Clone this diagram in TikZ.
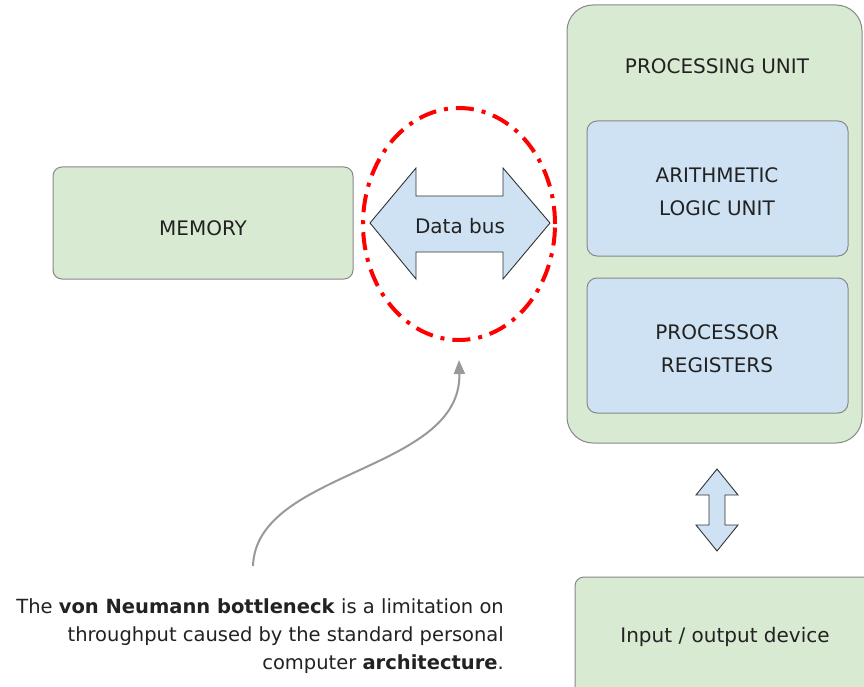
\documentclass[tikz,border=0pt]{standalone}
\usepackage{fontspec}
\setmainfont{DejaVu Sans}
\usetikzlibrary{arrows.meta,shapes.geometric}

\definecolor{boxgreen}{HTML}{D9EAD3}
\definecolor{boxblue}{HTML}{CFE2F3}
\definecolor{boxedge}{HTML}{888888}
\definecolor{inkdark}{HTML}{222222}
\definecolor{arrowedge}{HTML}{333333}
\definecolor{notegray}{HTML}{999999}

\tikzset{
  unitbox/.style={draw=boxedge, line width=1pt, fill=boxgreen, rounded corners=9pt,
    inner sep=0pt, align=center, text=inkdark},
  partbox/.style={draw=boxedge, line width=1pt, fill=boxblue, rounded corners=10pt,
    inner sep=0pt, align=center, text=inkdark},
  labeltext/.style={font=\fontsize{20}{33}\selectfont, text=inkdark, align=center},
  fatarrow/.style={draw=arrowedge, line width=0.9pt, fill=boxblue, line join=miter},
  busring/.style={draw=red, line width=4pt, dash pattern=on 18pt off 8pt on 4pt off 8pt},
  notearrow/.style={draw=notegray, line width=2pt, -{Triangle[length=14pt,width=11pt]}}
}

\begin{document}
\begin{tikzpicture}[x=1pt, y=-1pt]
  \clip (0,0) rectangle (864,687);
  \fill[white] (0,0) rectangle (864,687);

  % memory block
  \node[unitbox, minimum width=300pt, minimum height=112pt] (memory) at (203,223) {};
  \node[labeltext] (memlabel) at (203,228) {MEMORY};

  % processing unit with its two parts
  \node[unitbox, rounded corners=26pt, minimum width=295pt, minimum height=438pt] (cpu) at (714.5,224) {};
  \node[labeltext] (cpulabel) at (717,66) {PROCESSING UNIT};
  \node[partbox, minimum width=261pt, minimum height=135pt] (alu) at (717.5,188.5) {};
  \node[labeltext] (alulabel) at (717,192) {ARITHMETIC\\LOGIC UNIT};
  \node[partbox, minimum width=261pt, minimum height=135pt] (regs) at (717.5,345.5) {};
  \node[labeltext] (regslabel) at (717,348.5) {PROCESSOR\\REGISTERS};

  % input / output device
  \node[unitbox, minimum width=300pt, minimum height=130pt] (io) at (725,642) {};
  \node[labeltext] (iolabel) at (725,637) {Input / output device};

  % data bus: horizontal double arrow
  \draw[fatarrow] (370,223) -- (416,168) -- (416,196) -- (503,196) -- (503,168) -- (550,223)
    -- (503,279) -- (503,252) -- (416,252) -- (416,279) -- cycle;
  \node[labeltext] (bus) at (460,226) {Data bus};

  % vertical double arrow between processor and i/o
  \draw[fatarrow] (717,469) -- (738,495) -- (725,495) -- (725,525) -- (738,525) -- (717,551)
    -- (696,525) -- (709,525) -- (709,495) -- (696,495) -- cycle;

  % bottleneck ring around the bus
  \node[busring, ellipse, minimum width=192pt, minimum height=232pt, inner sep=0pt] (bottleneck) at (459,224) {};

  % explanatory note and its pointer
  \node[anchor=east, align=right, text=inkdark, font=\fontsize{19.5}{28}\selectfont, inner sep=0pt] (note) at (504,636)
    {The \textbf{von Neumann bottleneck} is a limitation on\\
     throughput caused by the standard personal\\
     computer \textbf{architecture}.};
  \coordinate (notestart) at (253,566);
  \draw[notearrow] (notestart) .. controls (256,470) and (462,472) .. ([yshift=-18pt]bottleneck.south);
\end{tikzpicture}
\end{document}
